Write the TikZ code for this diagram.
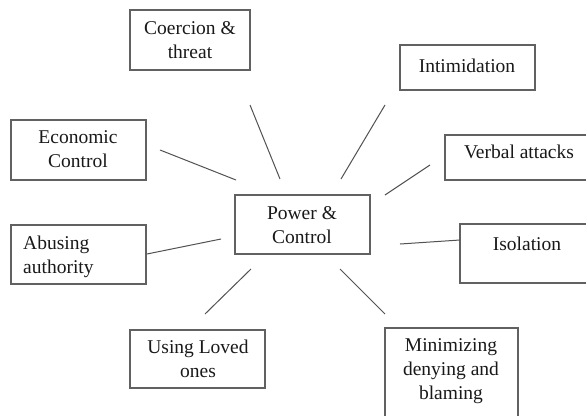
\documentclass[tikz,border=0pt]{standalone}
\usepackage{fontspec}
\setmainfont{Liberation Serif}
\begin{document}
\begin{tikzpicture}[x=1pt,y=-1pt,
  box/.style={draw=black!62, line width=1.3pt, rectangle, inner sep=0pt},
  txt/.style={inner sep=0pt, align=center, font=\fontsize{19.5}{24}\selectfont, text=black!90},
  txtl/.style={inner sep=0pt, align=left, font=\fontsize{19.5}{24}\selectfont, text=black!90},
  link/.style={draw=black!68, line width=1pt}]
\clip (0,0) rectangle (586,415);
\fill[white] (0,0) rectangle (586,415);
% boxes
\node[box, minimum width=120, minimum height=60] (coercion) at (190,40) {};
\node[box, minimum width=135, minimum height=45] (intim) at (467.5,67.5) {};
\node[box, minimum width=150, minimum height=45] (verbal) at (520,157.5) {};
\node[box, minimum width=135, minimum height=60] (econ) at (78.5,150) {};
\node[box, minimum width=135, minimum height=59] (abuse) at (78.5,254.5) {};
\node[box, minimum width=135, minimum height=59] (power) at (302.5,224.5) {};
\node[box, minimum width=135, minimum height=59] (isol) at (527.5,253.5) {};
\node[box, minimum width=135, minimum height=58] (loved) at (197.5,359) {};
\node[box, minimum width=133, minimum height=100] (minim) at (451.5,378) {};
% texts
\node[txt, anchor=base] (tcoercion) at (190,58) {Coercion \&\\threat};
\node[txt, anchor=base] (tintim) at (467,72) {Intimidation};
\node[txt, anchor=base] (tverbal) at (519,158) {Verbal attacks};
\node[txt, anchor=base] (tecon) at (78,167) {Economic\\Control};
\node[txtl, anchor=base west] (tabuse) at (23,273) {Abusing\\authority};
\node[txt, anchor=base] (tpower) at (302,243) {Power \&\\Control};
\node[txt, anchor=base] (tisol) at (527,250) {Isolation};
\node[txt, anchor=base] (tloved) at (198,377) {Using Loved\\ones};
\node[txt, anchor=base] (tminim) at (451,399) {Minimizing\\denying and\\blaming};
% connector ends
\coordinate (c1a) at (250,105); \coordinate (c1b) at (280,179);
\coordinate (c2a) at (385,105); \coordinate (c2b) at (341,179);
\coordinate (c3a) at (430,165); \coordinate (c3b) at (385,195);
\coordinate (c4a) at (160,150); \coordinate (c4b) at (236,180);
\coordinate (c5a) at (147,254); \coordinate (c5b) at (221,239);
\coordinate (c6a) at (400,244); \coordinate (c6b) at (460,240);
\coordinate (c7a) at (251,269); \coordinate (c7b) at (205,314);
\coordinate (c8a) at (340,269); \coordinate (c8b) at (385,314);
\draw[link] (c1a) -- (c1b);
\draw[link] (c2a) -- (c2b);
\draw[link] (c3a) -- (c3b);
\draw[link] (c4a) -- (c4b);
\draw[link] (c5a) -- (c5b);
\draw[link] (c6a) -- (c6b);
\draw[link] (c7a) -- (c7b);
\draw[link] (c8a) -- (c8b);
\end{tikzpicture}
\end{document}
